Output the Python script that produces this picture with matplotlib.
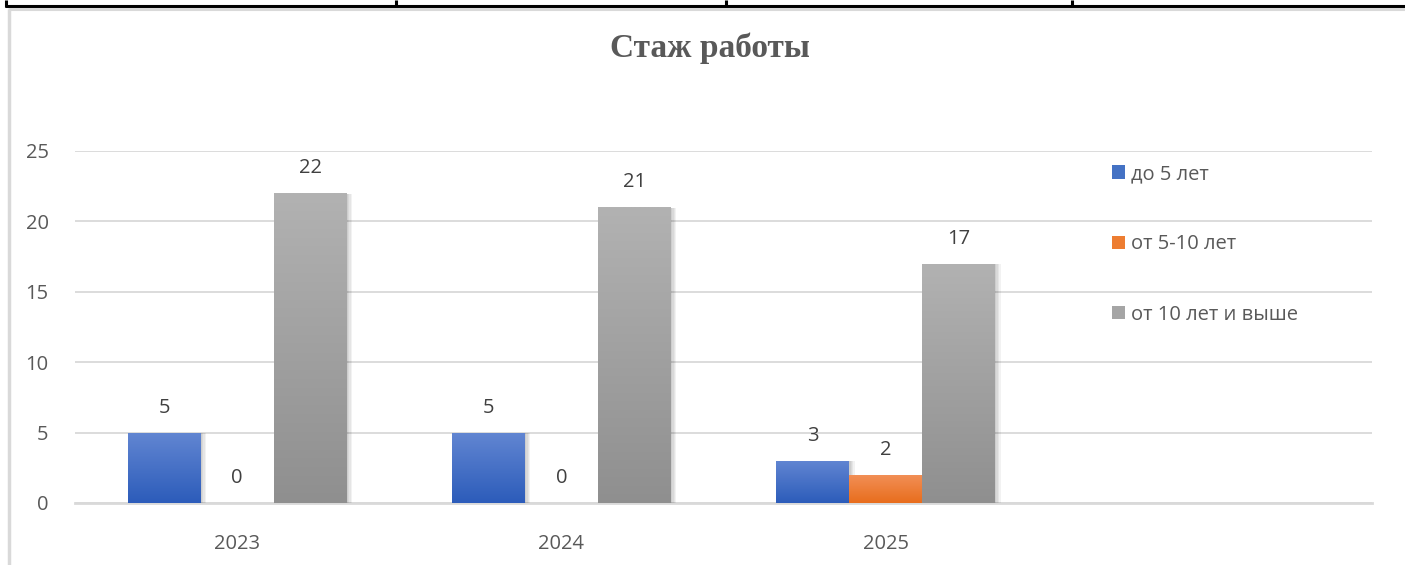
import numpy as np
import matplotlib
matplotlib.use("Agg")
import matplotlib.pyplot as plt
from matplotlib.lines import Line2D
from matplotlib.patches import Patch
import matplotlib.patheffects as pe
from matplotlib.colors import LinearSegmentedColormap

# ---- data ----
categories = ["2023", "2024", "2025"]
series_names = ["до 5 лет", "от 5-10 лет", "от 10 лет и выше"]
under5 = [5, 5, 3]
from5to10 = [0, 0, 2]
over10 = [22, 21, 17]
title = "Стаж работы"
yticks = [0, 5, 10, 15, 20, 25]

series = [under5, from5to10, over10]
grad_top = ["#6286d2", "#f29058", "#b2b2b2"]
grad_bot = ["#2c5cba", "#e86d1c", "#8f8f8f"]
solid = ["#4472c4", "#ed7d31", "#a5a5a5"]

W, H = 1405, 565
fig = plt.figure(figsize=(W / 100, H / 100), dpi=100)
fig.patch.set_facecolor("white")

sans = ["Open Sans", "DejaVu Sans"]
txt_color = "#595959"
grid_color = "#d9d9d9"
fs = 14.5

left, right = 75 / W, 1372 / W
bottom, top = 1 - 503 / H, 1 - 151 / H
ax = fig.add_axes([left, bottom, right - left, top - bottom])
ax.set_facecolor("none")

n = len(categories)
x = np.arange(n)
bw = 0.225
offsets = [-bw, 0, bw]

shadow = [pe.SimplePatchShadow(offset=(o, -0.3), shadow_rgbFace="black", alpha=0.05) for o in (1, 2, 3, 4)]

for i, vals in enumerate(series):
    bars = ax.bar(x + offsets[i], vals, width=bw, color=solid[i], zorder=3,
                  linewidth=0, path_effects=shadow + [pe.Normal()])
    cmap = LinearSegmentedColormap.from_list("g%d" % i, [grad_bot[i], grad_top[i]])
    for b, v in zip(bars, vals):
        cx = b.get_x() + b.get_width() / 2
        if b.get_height() > 0:
            grad = np.linspace(0, 1, 256).reshape(-1, 1)
            im = ax.imshow(grad, extent=[b.get_x(), b.get_x() + b.get_width(), 0, b.get_height()],
                           origin="lower", aspect="auto", cmap=cmap, zorder=3.5)
            im.set_clip_path(b)
        ax.annotate(str(v), (cx, b.get_height()),
                    xytext=(0, 18), textcoords="offset points", ha="center", va="center",
                    fontsize=fs, color="#404040", family=sans, zorder=5)

ax.set_xlim(-0.5, n + 0.5)
ax.set_ylim(0, 25)
ax.set_yticks(yticks)
ax.set_yticklabels([str(t) for t in yticks], family=sans, fontsize=fs, color=txt_color)
ax.set_xticks(x)
ax.set_xticklabels(categories, family=sans, fontsize=fs, color=txt_color)
ax.tick_params(axis="both", length=0)
ax.tick_params(axis="y", pad=19)
ax.tick_params(axis="x", pad=22)
ax.grid(axis="y", color=grid_color, linewidth=1.3, zorder=0)
ax.set_axisbelow(True)
for s in ["left", "right", "top"]:
    ax.spines[s].set_visible(False)
ax.spines["bottom"].set_color(grid_color)
ax.spines["bottom"].set_linewidth(2)
ax.spines["bottom"].set_zorder(2)

# title
fig.text(710 / W, 1 - 48 / H, title, ha="center", va="center", fontsize=24,
         fontweight="bold", family=["Liberation Serif", "DejaVu Serif"], color=txt_color)

# legend
handles = [Patch(facecolor=c, edgecolor="none") for c in solid]
leg = fig.legend(handles, series_names, loc="upper left",
                 bbox_to_anchor=(1112 / W, 1 - 164 / H), frameon=False,
                 prop={"family": sans, "size": fs}, labelcolor=txt_color,
                 handlelength=0.65, handleheight=0.65, handletextpad=0.3,
                 labelspacing=2.5, borderaxespad=0, borderpad=0)

# page decorations (table fragment and chart frame)
def px_line(x0, y0, x1, y1, color, lw):
    fig.add_artist(Line2D([x0 / W, x1 / W], [1 - y0 / H, 1 - y1 / H], color=color,
                          linewidth=lw, transform=fig.transFigure, solid_capstyle="butt"))

px_line(5, 6, W, 6, "black", 2.2)
for xv in [6, 396, 726, 1072]:
    px_line(xv, 0, xv, 7, "black", 2.2)
px_line(8, 9, W, 9, grid_color, 2.2)
px_line(9, 9, 9, H, grid_color, 2.5)

fig.savefig("out.png", dpi=100, facecolor="white")
